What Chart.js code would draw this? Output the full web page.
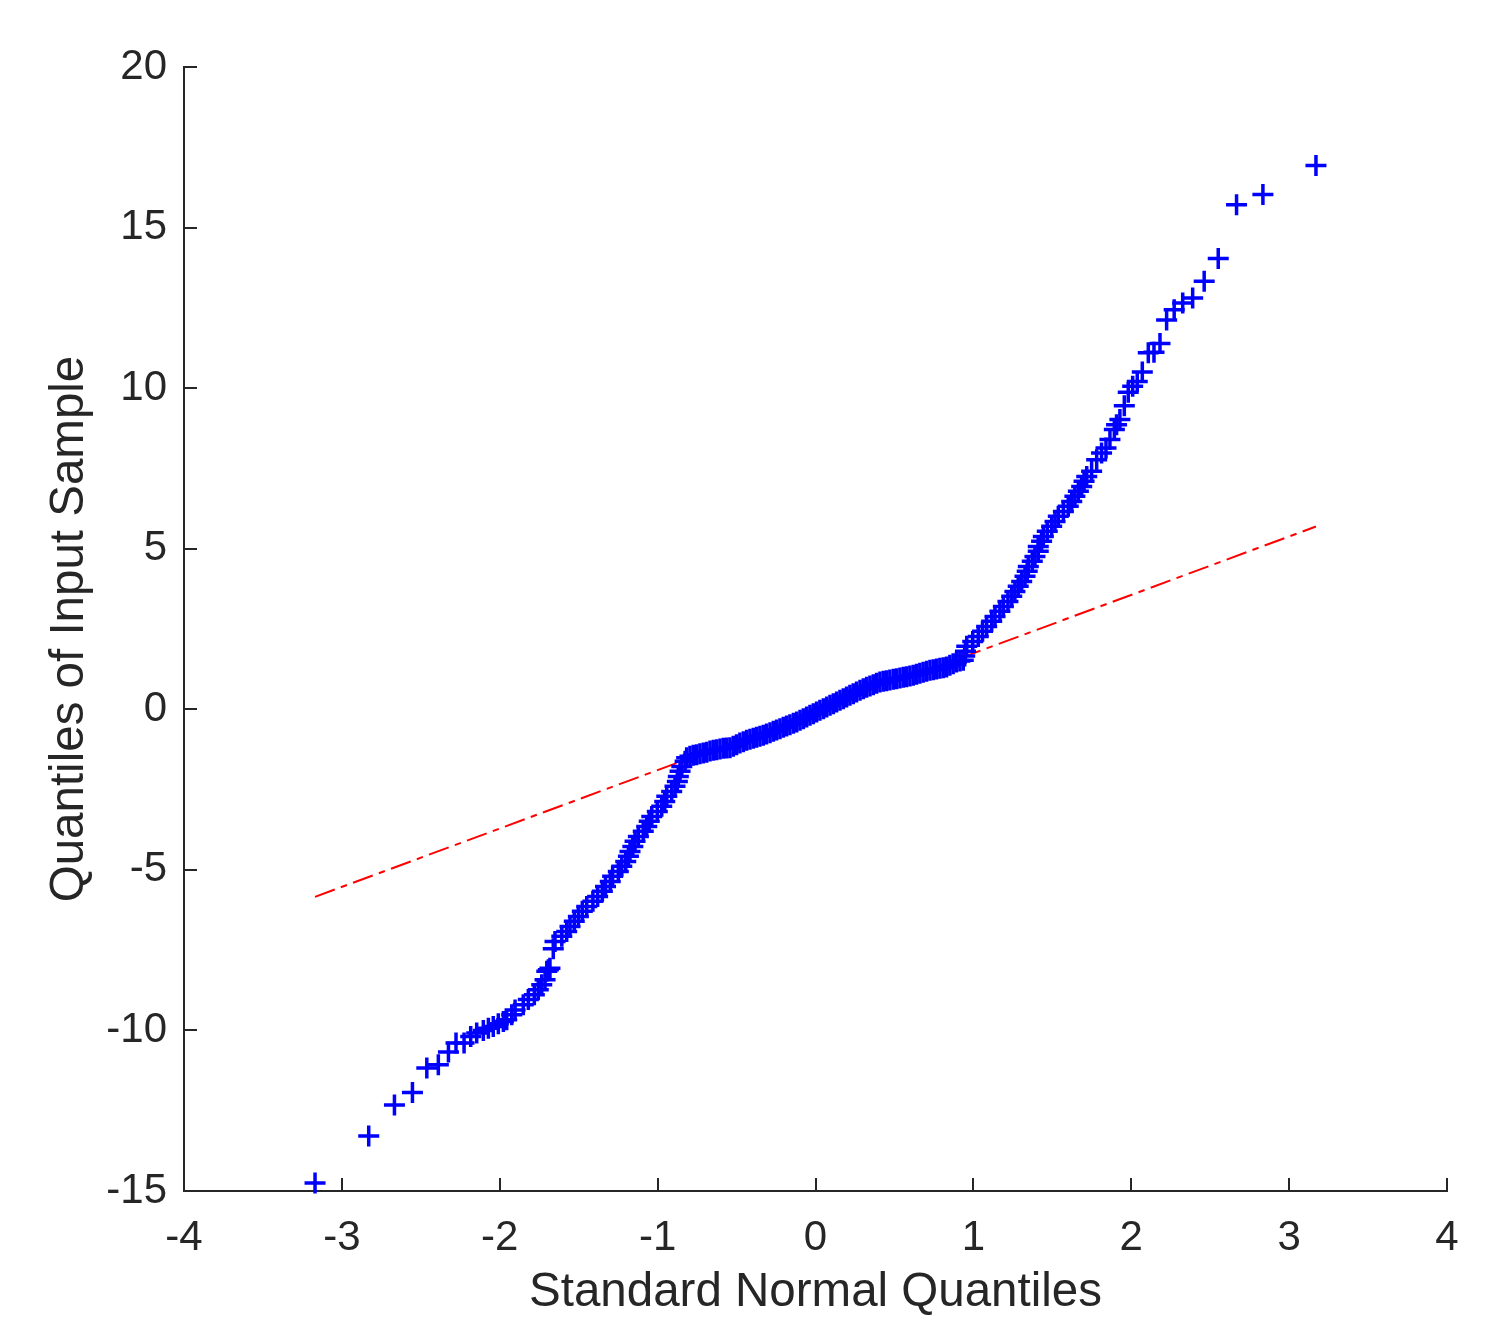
<!DOCTYPE html>
<html>
<head>
<meta charset="utf-8">
<script src="https://cdn.jsdelivr.net/npm/chart.js@4.4.1/dist/chart.umd.min.js"></script>
<style>
  html, body { margin: 0; padding: 0; background: #fff; }
  canvas { display: block; }
</style>
</head>
<body>
<canvas id="qq" width="1496" height="1328"></canvas>
<script>
// theoretical (standard normal) quantiles
const normalQuantiles = [
  // lower tail and lower steep part
  -3.170, -2.830, -2.667, -2.553, -2.462, -2.389, -2.325, -2.277, -2.226, -2.184,
  -2.146, -2.104, -2.072, -2.041, -2.009, -1.977, -1.956, -1.924, -1.903, -1.851,
  -1.819, -1.781, -1.756, -1.734, -1.713, -1.702, -1.692, -1.682, -1.661, -1.650,
  -1.607, -1.576, -1.555, -1.528, -1.502, -1.477, -1.449, -1.410, -1.380, -1.350,
  -1.330, -1.300, -1.285, -1.249, -1.227, -1.202, -1.185, -1.175, -1.157, -1.143,
  -1.122, -1.091, -1.069, -1.053, -1.037, -1.002, -0.974, -0.955, -0.942, -0.911,
  -0.890, -0.875, -0.869, -0.858, -0.847, -0.826,
  // flat middle part
  -0.816, -0.795, -0.774, -0.753, -0.732, -0.711, -0.689, -0.668, -0.647, -0.626,
  -0.605, -0.584, -0.563, -0.542, -0.521, -0.500, -0.479, -0.457, -0.436, -0.415,
  -0.394, -0.373, -0.352, -0.331, -0.310, -0.288, -0.267, -0.246, -0.225, -0.204,
  -0.183, -0.162, -0.140, -0.119, -0.098, -0.077, -0.056, -0.035, -0.014, 0.007,
  0.028, 0.050, 0.071, 0.092, 0.113, 0.134, 0.155, 0.176, 0.197, 0.218,
  0.239, 0.260, 0.282, 0.303, 0.324, 0.345, 0.366, 0.387, 0.408, 0.429,
  0.450, 0.471, 0.493, 0.514, 0.535, 0.556, 0.577, 0.598, 0.619, 0.640,
  0.661, 0.682, 0.704, 0.725, 0.746, 0.767, 0.788, 0.809, 0.830, 0.851,
  0.872, 0.893, 0.915, 0.936,
  // upper steep part and upper tail
  0.945, 0.950, 0.958, 0.996, 1.031, 1.058, 1.084, 1.116, 1.137, 1.168, 1.190, 1.219,
  1.243, 1.263, 1.284, 1.306, 1.327, 1.341, 1.348, 1.373, 1.390, 1.411,
  1.411, 1.432, 1.443, 1.468, 1.496, 1.517, 1.538, 1.570, 1.601, 1.623,
  1.643, 1.665, 1.686, 1.701, 1.718, 1.749, 1.781, 1.812, 1.840, 1.865,
  1.893, 1.907, 1.928, 1.956, 1.981, 2.009, 2.038, 2.070, 2.108, 2.144,
  2.182, 2.224, 2.272, 2.326, 2.389, 2.462, 2.551, 2.667, 2.834, 3.170
];

// sorted sample values
const sampleQuantiles = [
  -14.75, -13.29, -12.32, -11.93, -11.17, -11.07, -10.67, -10.39, -10.39, -10.19,
  -10.08, -10.00, -9.93, -9.88, -9.79, -9.72, -9.67, -9.51, -9.36, -9.20,
  -9.04, -8.89, -8.73, -8.58, -8.42, -8.16, -8.11, -8.06, -7.46, -7.23,
  -7.07, -6.92, -6.76, -6.60, -6.45, -6.29, -6.14, -5.98, -5.83, -5.67,
  -5.52, -5.36, -5.20, -5.05, -4.89, -4.74, -4.58, -4.43, -4.27, -4.11,
  -3.96, -3.80, -3.65, -3.49, -3.34, -3.18, -3.02, -2.87, -2.71, -2.56,
  -2.40, -2.25, -2.09, -1.93, -1.78, -1.62,

  -1.507, -1.466, -1.435, -1.414, -1.383, -1.362, -1.341, -1.300, -1.279, -1.258,
  -1.238, -1.217, -1.206, -1.196, -1.154, -1.102, -1.051, -1.009, -0.968, -0.936,
  -0.905, -0.874, -0.843, -0.812, -0.770, -0.729, -0.687, -0.646, -0.604, -0.563,
  -0.521, -0.480, -0.438, -0.397, -0.345, -0.293, -0.241, -0.189, -0.137, -0.085,
  -0.033, 0.019, 0.070, 0.122, 0.174, 0.226, 0.278, 0.330, 0.382, 0.434,
  0.486, 0.538, 0.590, 0.641, 0.683, 0.724, 0.766, 0.808, 0.849, 0.870,
  0.891, 0.911, 0.932, 0.953, 0.974, 0.994, 1.015, 1.036, 1.057, 1.088,
  1.119, 1.150, 1.181, 1.212, 1.233, 1.254, 1.275, 1.296, 1.316, 1.368,
  1.420, 1.472, 1.503, 1.524,

  1.66, 1.81, 1.96, 2.11, 2.27, 2.43, 2.58, 2.74, 2.89, 3.05, 3.20, 3.36,
  3.52, 3.67, 3.83, 3.98, 4.14, 4.30, 4.45, 4.61, 4.76, 4.92,
  5.07, 5.23, 5.38, 5.54, 5.70, 5.85, 6.01, 6.16, 6.32, 6.47,
  6.63, 6.79, 6.94, 7.10, 7.25, 7.41, 7.77, 7.98, 8.14, 8.40,
  8.71, 8.86, 9.02, 9.45, 9.87, 10.06, 10.21, 10.50, 11.10, 11.12,
  11.39, 12.12, 12.44, 12.65, 12.81, 13.33, 14.04, 15.71, 16.03, 16.93
];

// reference line end points
const refLineX = [-3.17, 3.17];
const refLineY = [-5.84, 5.69];

const xTicks = [-4, -3, -2, -1, 0, 1, 2, 3, 4];
const yTicks = [-15, -10, -5, 0, 5, 10, 15, 20];

const axisColor = '#262626';
const fontFamily = '"Liberation Sans", Arial, Helvetica, sans-serif';

// MATLAB style: ticks point into the plot area
const inwardTicks = {
  id: 'inwardTicks',
  afterDraw(chart) {
    const { ctx, chartArea, scales } = chart;
    ctx.save();
    ctx.strokeStyle = axisColor;
    ctx.lineWidth = 2;
    ctx.beginPath();
    xTicks.forEach(v => {
      const px = Math.round(scales.x.getPixelForValue(v));
      ctx.moveTo(px, chartArea.bottom);
      ctx.lineTo(px, chartArea.bottom - 13);
    });
    yTicks.forEach(v => {
      const py = Math.round(scales.y.getPixelForValue(v));
      ctx.moveTo(chartArea.left, py);
      ctx.lineTo(chartArea.left + 13, py);
    });
    ctx.stroke();
    ctx.restore();
  }
};

const ctx = document.getElementById('qq').getContext('2d');
new Chart(ctx, {
  type: 'scatter',
  data: {
    datasets: [
      {
        label: 'sample',
        data: normalQuantiles.map((x, i) => ({ x: x, y: sampleQuantiles[i] })),
        pointStyle: 'cross',
        pointRadius: 10.5,
        borderWidth: 3.5,
        pointBorderWidth: 3.5,
        borderColor: '#0000ff',
        backgroundColor: '#0000ff',
        clip: false
      },
      {
        label: 'reference',
        type: 'line',
        data: refLineX.map((x, i) => ({ x: x, y: refLineY[i] })),
        borderColor: '#ff0000',
        borderWidth: 2,
        borderDash: [21, 6.5, 6.5, 6.5],
        pointRadius: 0,
        fill: false
      }
    ]
  },
  options: {
    responsive: false,
    devicePixelRatio: 1,
    animation: false,
    events: [],
    layout: { padding: { top: 67, right: 49, left: 0, bottom: 0 } },
    plugins: {
      legend: { display: false },
      tooltip: { enabled: false }
    },
    scales: {
      x: {
        type: 'linear',
        min: -4,
        max: 4,
        afterBuildTicks: scale => { scale.ticks = xTicks.map(v => ({ value: v })); },
        afterFit: scale => { scale.height = 137; },
        grid: { display: false },
        border: { display: true, color: axisColor, width: 2 },
        ticks: {
          color: axisColor,
          padding: 14,
          maxRotation: 0,
          font: { family: fontFamily, size: 42 }
        },
        title: {
          display: true,
          text: 'Standard Normal Quantiles',
          color: axisColor,
          padding: { top: 0, bottom: 7 },
          font: { family: fontFamily, size: 47.5 }
        }
      },
      y: {
        type: 'linear',
        min: -15,
        max: 20,
        afterBuildTicks: scale => { scale.ticks = yTicks.map(v => ({ value: v })); },
        afterFit: scale => { scale.width = 184; },
        grid: { display: false },
        border: { display: true, color: axisColor, width: 2 },
        ticks: {
          color: axisColor,
          padding: 9,
          font: { family: fontFamily, size: 42 }
        },
        title: {
          display: true,
          text: 'Quantiles of Input Sample',
          color: axisColor,
          padding: { top: 41, bottom: 0 },
          font: { family: fontFamily, size: 47.5 }
        }
      }
    }
  },
  plugins: [inwardTicks]
});
</script>
</body>
</html>
